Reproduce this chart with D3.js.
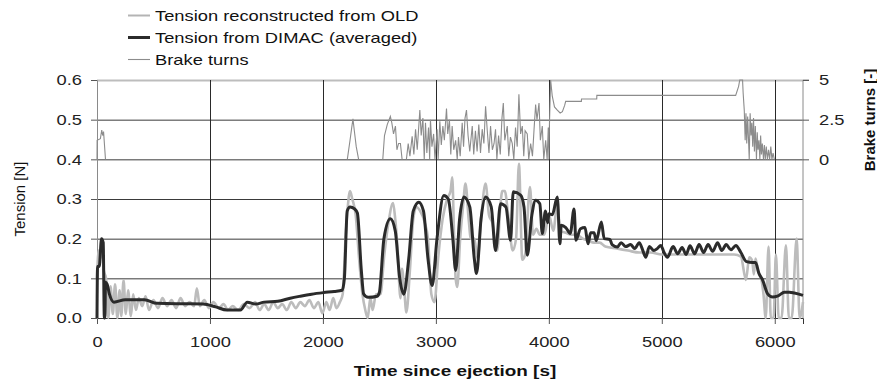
<!DOCTYPE html>
<html><head><meta charset="utf-8">
<script src="https://cdn.jsdelivr.net/npm/d3@7"></script>
<style>body{margin:0;background:#fff}svg{display:block;font-family:"Liberation Sans",Arial,sans-serif}</style>
</head><body><svg id="c" width="877" height="381"></svg>
<script>
// ---- data ----
const xTicks = [0,1000,2000,3000,4000,5000,6000];
const yTicks = [0.0,0.1,0.2,0.3,0.4,0.5,0.6];
const brakeTicks = [0,2.5,5];
const legendLabels = ["Tension reconstructed from OLD","Tension from DIMAC (averaged)","Brake turns"];

const oldT = [0,15,30,45,60,80,100,120,140,160,180,200,215,235,255,275,300,320,345,370,400,430,460,500,540,580,620,660,700,740,780,820,860,884,910,950,990,1030,1080,1120,1160,1200,1250,1300,1350,1400,1440,1480,1520,1560,1600,1640,1680,1720,1760,1800,1840,1880,1920,1960,1995,2030,2060,2091,2120,2150,2175,2200,2220,2240,2260,2290,2320,2350,2375,2396,2420,2440,2470,2510,2540,2580,2621,2640,2660,2686,2700,2720,2739,2770,2800,2828,2860,2900,2930,2960,2988,3020,3060,3100,3130,3145,3160,3175,3189,3215,3240,3262,3290,3310,3340,3370,3400,3440,3470,3500,3544,3570,3588,3610,3640,3680,3710,3735,3765,3790,3833,3860,3890,3920,3960,4000,4040,4075,4100,4150,4200,4250,4300,4350,4400,4450,4500,4600,4700,4800,4900,5000,5200,5400,5640,5700,5745,5774,5800,5815,5830,5850,5880,5900,5920,5945,5965,5990,6010,6035,6060,6099,6125,6150,6194,6220,6250];
const oldV = [0.1,0.17,0.15,0.19,0.12,0.1,0.0,0.08,0.01,0.085,0.0,0.07,0.005,0.095,0.01,0.07,0.005,0.06,0.02,0.05,0.03,0.055,0.02,0.045,0.025,0.05,0.03,0.045,0.025,0.05,0.03,0.04,0.03,0.075,0.03,0.045,0.025,0.04,0.025,0.035,0.02,0.03,0.02,0.035,0.025,0.04,0.02,0.035,0.02,0.04,0.025,0.035,0.02,0.04,0.025,0.04,0.03,0.045,0.025,0.04,0.012,0.04,0.02,0.05,0.025,0.04,0.06,0.2,0.28,0.32,0.3,0.26,0.15,0.06,0.02,0.0,0.05,0.02,0.06,0.06,0.15,0.24,0.29,0.25,0.18,0.05,0.124,0.07,0.014,0.12,0.25,0.28,0.27,0.242,0.2,0.06,0.04,0.15,0.25,0.3,0.32,0.355,0.22,0.1,0.078,0.2,0.28,0.339,0.25,0.2,0.2,0.15,0.25,0.339,0.26,0.24,0.17,0.28,0.32,0.32,0.26,0.17,0.2,0.389,0.147,0.16,0.33,0.21,0.225,0.21,0.21,0.26,0.22,0.29,0.22,0.215,0.21,0.21,0.2,0.195,0.19,0.19,0.18,0.175,0.17,0.165,0.165,0.16,0.16,0.16,0.16,0.155,0.096,0.153,0.145,0.11,0.15,0.12,0.1,0.06,0.0,0.18,0.0,0.0,0.16,0.0,0.0,0.183,0.0,0.0,0.2,0.0,0.04];

const dimacT = [0,5,20,40,55,65,70,75,90,110,150,250,420,530,700,825,940,1050,1150,1270,1330,1405,1480,1600,1711,1800,1900,2006,2100,2170,2190,2215,2240,2280,2305,2340,2361,2400,2480,2500,2540,2597,2640,2680,2716,2760,2800,2849,2890,2930,2967,3010,3070,3110,3150,3175,3210,3248,3300,3340,3360,3400,3440,3490,3528,3573,3620,3661,3685,3750,3780,3809,3850,3883,3920,3942,3970,3990,4001,4030,4075,4098,4110,4150,4190,4223,4240,4280,4320,4347,4370,4400,4420,4465,4490,4540,4560,4607,4640,4680,4725,4760,4800,4830,4858,4890,4930,4960,4991,5020,5050,5100,5140,5180,5215,5250,5290,5330,5370,5410,5450,5494,5530,5570,5612,5656,5700,5750,5804,5830,5860,5892,5937,5981,6030,6085,6130,6173,6250];
const dimacV = [0,0.13,0.13,0.2,0.19,0.0,0.0,0.09,0.085,0.06,0.04,0.046,0.046,0.037,0.036,0.036,0.035,0.028,0.02,0.02,0.04,0.035,0.04,0.042,0.05,0.055,0.06,0.064,0.067,0.07,0.1,0.27,0.28,0.275,0.265,0.12,0.06,0.052,0.055,0.065,0.2,0.25,0.22,0.1,0.06,0.15,0.27,0.292,0.27,0.15,0.082,0.2,0.309,0.3,0.2,0.12,0.25,0.305,0.28,0.15,0.112,0.25,0.305,0.28,0.17,0.288,0.28,0.196,0.318,0.31,0.28,0.158,0.26,0.297,0.288,0.213,0.27,0.24,0.263,0.26,0.305,0.187,0.234,0.228,0.213,0.275,0.196,0.225,0.228,0.187,0.215,0.215,0.195,0.242,0.2,0.198,0.185,0.179,0.19,0.18,0.185,0.175,0.19,0.172,0.153,0.18,0.17,0.175,0.183,0.165,0.153,0.18,0.162,0.178,0.16,0.182,0.162,0.185,0.165,0.185,0.168,0.19,0.17,0.185,0.172,0.183,0.165,0.142,0.14,0.14,0.112,0.096,0.061,0.053,0.056,0.065,0.065,0.063,0.057];

const brakeT = [0,1,30,42,50,58,75,null,2216,2240,2255,2266,2278,2295,2316,null,2530,2545,2570,2597,2610,2625,2642,2655,2670,2686,2701,null,2739,2755,2770,2790,2805,2820,2835,2858,2870,2885,2897,2908,2920,2935,2945,2952,2965,2980,2992,3011,3020,3035,3048,3062,3075,3094,3105,3120,3132,3144,3158,3175,3189,3200,3215,3233,3245,3258,3271,3285,3300,3322,3335,3350,3365,3380,3395,3410,3425,3440,3455,3470,3484,3500,3515,3528,3540,3555,3570,3585,3597,3610,3632,3645,3660,3676,3690,3705,3720,3735,3750,3765,3778,3790,3809,3822,3839,3855,3870,3883,3895,3913,3925,3942,3955,3972,3985,3995,4001,4005,4016,4030,4050,4075,4100,4120,4140,4149,4288,4289,4424,4425,5654,5680,5690,5715,5720,5730,5738,5745,5752,5760,5774,5782,5790,5797,5805,5812,5820,5828,5838,5845,5852,5860,5868,5875,5882,5890,5900,5908,5916,5925,5935,5945,5955,5965,5975,5985,5996];
const brakeV = [0,1.2,1.3,1.85,1.5,1.75,0,null,0,1.2,2.0,2.55,1.8,0.8,0,null,0,1.5,2.2,2.7,2.3,1.6,2.1,0.6,1.0,1.0,0,null,0,1.0,0.2,1.45,0.3,1.9,0.6,3.1,1.5,2.6,0,2.3,0.4,2.0,0,2.5,0.8,1.6,0,1.9,0,2.4,0.9,2.1,1.2,3.2,1.6,2.5,0.3,2.1,0.6,1.2,0,1.4,0.2,2.3,0.8,2.6,3.1,1.5,0.5,2.1,0.3,1.8,0.5,2.2,0.4,1.9,1.0,3.35,1.8,0.4,2.1,0.6,1.0,1.9,0,1.5,0.3,2.6,3.55,1.2,2.1,0.2,1.4,1.0,0,2.0,0.8,4.1,1.6,2.1,0.2,1.8,1.6,0,1.0,0.2,2.0,3.45,2.5,3.55,1.2,2.1,0,1.2,0,2.0,0,2.1,5.0,4.0,3.3,3.1,2.92,3.0,3.4,3.65,3.65,3.8,3.8,4.03,4.03,4.6,5.0,5.0,4.2,3.1,1.2,2.9,1.0,2.7,0,2.9,1.5,2.3,0.8,2.6,0.5,2.1,0,1.7,0.6,1.2,0,1.5,0.3,1.0,0,0.9,0,0.8,0,0.6,0,0.8,0,0.4,0];

// ---- chart ----
const svg = d3.select("#c");
const L = 97, R = 803, T = 80, B = 318;
const STRETCH = 1.22;
const x = d3.scaleLinear().domain([0,6250]).range([L,R]);
const y = d3.scaleLinear().domain([0,0.6]).range([B,T]);
const yb = d3.scaleLinear().domain([0,5]).range([y(0.4),y(0.6)]);

// gridlines
svg.append("g").selectAll("line").data(yTicks.filter(d=>d>0)).join("line")
  .attr("x1",L).attr("x2",R).attr("y1",d=>y(d)+0.5).attr("y2",d=>y(d)+0.5)
  .attr("stroke",d=>d===0.6?"#bdbdbd":"#3a3a3a").attr("stroke-width",d=>d===0.6?2:1);
svg.append("g").selectAll("line").data(xTicks.filter(d=>d>0)).join("line")
  .attr("x1",d=>Math.round(x(d))+0.5).attr("x2",d=>Math.round(x(d))+0.5).attr("y1",T).attr("y2",B)
  .attr("stroke","#2a2a2a").attr("stroke-width",1);

// axes
const ax = svg.append("g").attr("transform",`translate(0,${B})`)
  .call(d3.axisBottom(x).tickValues(xTicks).tickSize(6).tickPadding(12).tickFormat(d3.format("d")));
const ay = svg.append("g").attr("transform",`translate(${L},0)`)
  .call(d3.axisLeft(y).tickValues(yTicks).tickSize(6).tickPadding(9).tickFormat(d3.format(".1f")));
const ar = svg.append("g").attr("transform",`translate(${R},0)`)
  .call(d3.axisRight(yb).tickValues(brakeTicks).tickSize(6).tickPadding(10).tickFormat(d=>d));
[ax,ay,ar].forEach(g=>{
  g.selectAll("text").attr("font-size",15).attr("fill","#222").attr("font-family","Liberation Sans, Arial, sans-serif").classed("st",true);
  g.selectAll(".tick line").attr("stroke","#555");
});
ax.select(".domain").attr("stroke","#333");
ay.select(".domain").attr("stroke","#8a8a8a");
ar.select(".domain").attr("stroke","#8a8a8a");
ar.select(".domain").attr("d",`M6,${T}H0V${B}`);

// series
const mk = (T_,V_)=>T_.map((t,i)=>[t,V_[i]]);
const line = d3.line().defined(d=>d[0]!==null&&d[1]!==null).x(d=>x(d[0])).y(d=>y(d[1]));
const lineB = d3.line().defined(d=>d[0]!==null&&d[1]!==null).x(d=>x(d[0])).y(d=>yb(d[1]));

svg.append("path").datum(mk(brakeT,brakeV)).attr("d",lineB)
  .attr("fill","none").attr("stroke","#8c8c8c").attr("stroke-width",1.1);
svg.append("path").datum(mk(oldT,oldV)).attr("d",line.curve(d3.curveMonotoneX))
  .attr("fill","none").attr("stroke","#bcbcbc").attr("stroke-width",2.6).attr("stroke-linejoin","round");
svg.append("path").datum(mk(dimacT,dimacV)).attr("d",line.curve(d3.curveMonotoneX))
  .attr("fill","none").attr("stroke","#2b2b2b").attr("stroke-width",3).attr("stroke-linejoin","round");

// axis titles
svg.append("text").attr("x",455).attr("y",376).attr("text-anchor","middle").classed("st",true)
  .attr("font-size",15.5).attr("font-weight","bold").attr("fill","#111").text("Time since ejection [s]");
svg.append("text").attr("transform","translate(25,199) rotate(-90)").attr("text-anchor","middle")
  .attr("font-size",15).attr("fill","#111").text("Tension [N]");
svg.append("text").attr("transform","translate(875,120) rotate(-90)").attr("text-anchor","middle")
  .attr("font-size",15).attr("font-weight","bold").attr("fill","#111").text("Brake turns [-]");

// legend
const legStroke = ["#b4b4b4","#2b2b2b","#8c8c8c"], legW=[2,3,1.1];
const lg = svg.append("g").selectAll("g").data(legendLabels).join("g")
  .attr("transform",(d,i)=>`translate(0,${15+i*22})`);
lg.append("line").attr("x1",128).attr("x2",150).attr("y1",0.5).attr("y2",0.5)
  .attr("stroke",(d,i)=>legStroke[i]).attr("stroke-width",(d,i)=>legW[i]);
lg.append("text").attr("x",155).attr("y",6).attr("font-size",15).attr("fill","#111").classed("st",true).text(d=>d);

// horizontal stretch of upright text to match the reference's wide lettering
svg.selectAll("text.st").each(function(){
  const w = this.getComputedTextLength();
  d3.select(this).attr("textLength", w*STRETCH).attr("lengthAdjust","spacingAndGlyphs");
});
</script></body></html>
